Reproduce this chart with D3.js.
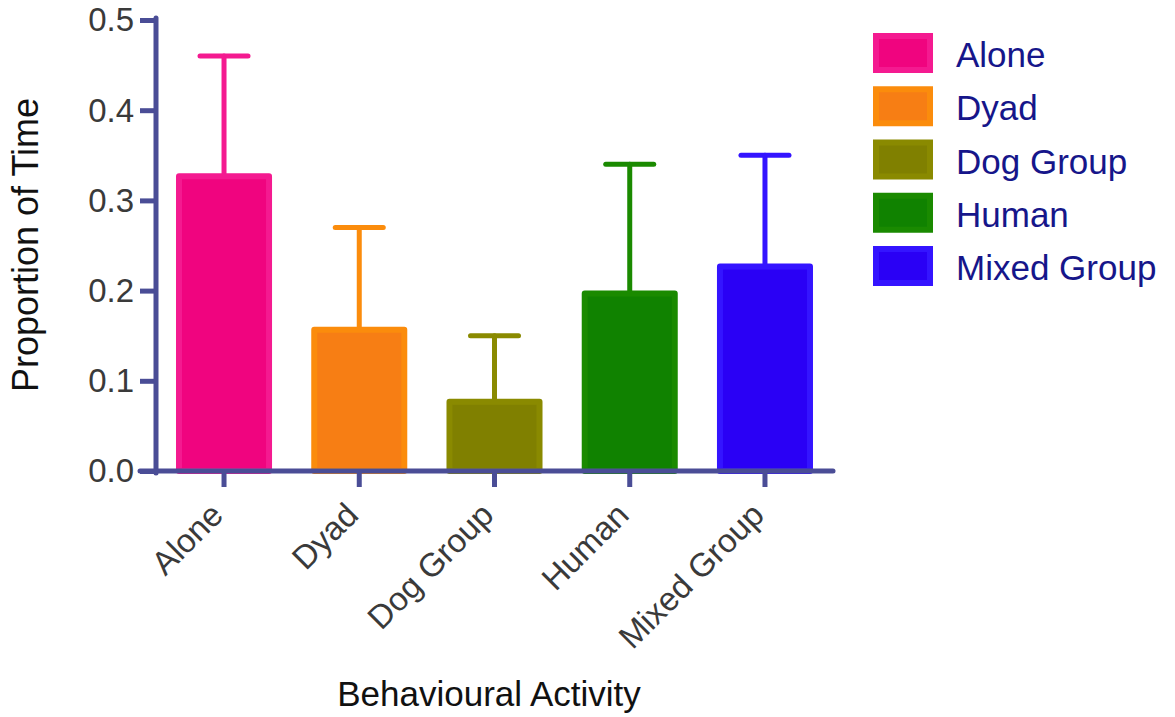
<!DOCTYPE html>
<html>
<head>
<meta charset="utf-8">
<script src="https://cdn.jsdelivr.net/npm/d3@7"></script>
<style>
  body { margin: 0; background: #fff; }
  text { font-family: "Liberation Sans", Arial, Helvetica, sans-serif; }
</style>
</head>
<body>
<svg id="chart"></svg>
<script>
// data
const categories = ["Alone", "Dyad", "Dog Group", "Human", "Mixed Group"];
const means = [0.33, 0.16, 0.08, 0.20, 0.23];
const errors = [0.13, 0.11, 0.07, 0.14, 0.12];
const yTicks = [0.0, 0.1, 0.2, 0.3, 0.4, 0.5];
const fills = ["#f0047f", "#f77e14", "#808000", "#108200", "#2a00f5"];
const strokes = ["#f41a90", "#fb8c0c", "#8a8a00", "#1a8a00", "#3414ff"];

const w = 1175;
const h = 717;
const axisColor = "#4a4d96";

const svg = d3.select("#chart")
              .attr("width", w)
              .attr("height", h);

//Scales
const x = d3.scaleBand()
            .domain(categories)
            .range([156, 833])
            .paddingInner(0.29)
            .paddingOuter(0.148);

const y = d3.scaleLinear()
            .domain([0, 0.5])
            .range([471, 20]);

//Error bars (behind the bars)
const err = svg.append("g").selectAll("g")
               .data(categories)
               .enter()
               .append("g")
               .attr("stroke", (d, i) => strokes[i])
               .attr("stroke-width", 5)
               .attr("stroke-linecap", "round");

err.append("line")
   .attr("x1", d => x(d) + x.bandwidth() / 2)
   .attr("x2", d => x(d) + x.bandwidth() / 2)
   .attr("y1", (d, i) => y(means[i]))
   .attr("y2", (d, i) => y(means[i] + errors[i]));

err.append("line")
   .attr("x1", d => x(d) + x.bandwidth() / 2 - 24)
   .attr("x2", d => x(d) + x.bandwidth() / 2 + 24)
   .attr("y1", (d, i) => y(means[i] + errors[i]))
   .attr("y2", (d, i) => y(means[i] + errors[i]));

//Bars
svg.append("g").selectAll("rect")
   .data(categories)
   .enter()
   .append("rect")
   .attr("x", d => x(d) + 3)
   .attr("width", x.bandwidth() - 6)
   .attr("y", (d, i) => y(means[i]) + 3)
   .attr("height", (d, i) => y(0) - y(means[i]) - 3)
   .attr("fill", (d, i) => fills[i])
   .attr("stroke", (d, i) => strokes[i])
   .attr("stroke-width", 6)
   .attr("stroke-linejoin", "round");

//Y axis
const yAxis = svg.append("g")
                 .attr("transform", "translate(156,0)")
                 .call(d3.axisLeft(y)
                         .tickValues(yTicks)
                         .tickSize(16)
                         .tickSizeOuter(0)
                         .tickPadding(0)
                         .tickFormat(d3.format(".1f")));

yAxis.select(".domain").remove();
yAxis.selectAll(".tick line")
     .attr("stroke", axisColor)
     .attr("stroke-width", 5);
yAxis.selectAll(".tick text")
     .attr("x", -22)
     .attr("dy", "0.33em")
     .attr("fill", "#3a3a3a")
     .style("font-size", "33px");

svg.append("line")
   .attr("x1", 156).attr("x2", 156)
   .attr("y1", y(0.5) - 2).attr("y2", y(0) + 2)
   .attr("stroke", axisColor)
   .attr("stroke-width", 5)
   .attr("stroke-linecap", "round");

//X axis
const xAxis = svg.append("g")
                 .attr("transform", `translate(0,${y(0)})`)
                 .call(d3.axisBottom(x)
                         .tickSize(16)
                         .tickSizeOuter(0));

xAxis.select(".domain").remove();
xAxis.selectAll(".tick line")
     .attr("stroke", axisColor)
     .attr("stroke-width", 5);
xAxis.selectAll(".tick text").remove();
xAxis.selectAll(".tick")
     .append("text")
     .attr("transform", "translate(1,46) rotate(-45)")
     .attr("text-anchor", "end")
     .attr("fill", "#3a3a3a")
     .style("font-size", "33px")
     .text(d => d);

svg.append("line")
   .attr("x1", 140).attr("x2", 833)
   .attr("y1", y(0)).attr("y2", y(0))
   .attr("stroke", axisColor)
   .attr("stroke-width", 5)
   .attr("stroke-linecap", "round");

//Axis titles
svg.append("text")
   .attr("x", 489)
   .attr("y", 706)
   .attr("text-anchor", "middle")
   .attr("fill", "#111")
   .style("font-size", "35px")
   .text("Behavioural Activity");

svg.append("text")
   .attr("transform", "translate(38,245) rotate(-90)")
   .attr("text-anchor", "middle")
   .attr("fill", "#111")
   .style("font-size", "36px")
   .text("Proportion of Time");

//Legend
const legend = svg.append("g")
                  .attr("transform", "translate(873,33)");

const item = legend.selectAll("g")
                   .data(categories)
                   .enter()
                   .append("g")
                   .attr("transform", (d, i) => `translate(0,${i * 53.25})`);

item.append("rect")
    .attr("x", 3).attr("y", 3)
    .attr("width", 54).attr("height", 34)
    .attr("fill", (d, i) => fills[i])
    .attr("stroke", (d, i) => strokes[i])
    .attr("stroke-width", 6);

item.append("text")
    .attr("x", 83)
    .attr("y", 34)
    .attr("fill", "#16168a")
    .style("font-size", "35px")
    .text(d => d);
</script>
</body>
</html>
